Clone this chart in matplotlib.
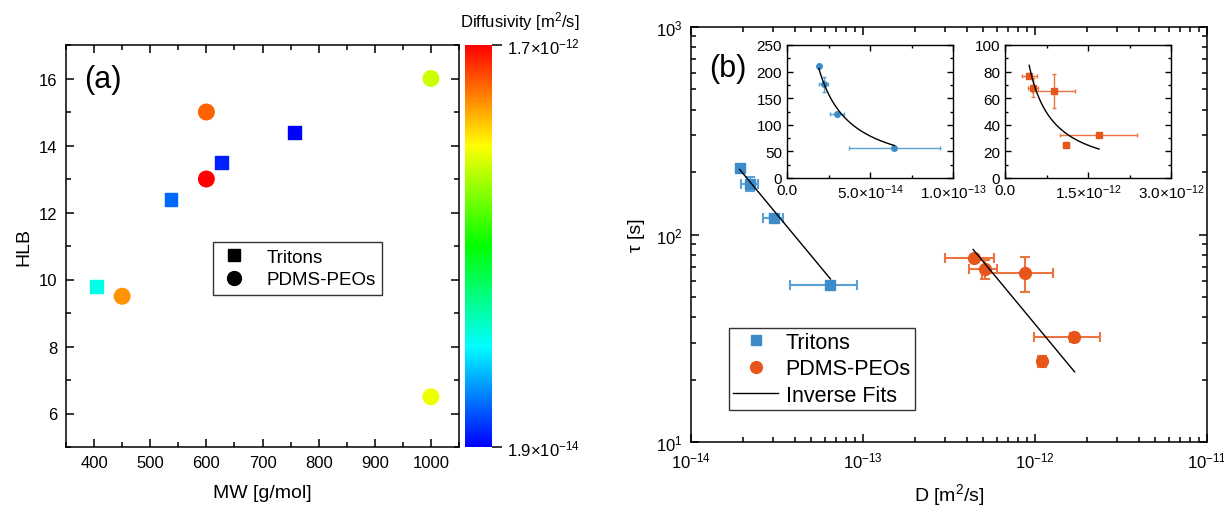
import numpy as np
import matplotlib
matplotlib.use("Agg")
import matplotlib.pyplot as plt
from matplotlib.colors import LinearSegmentedColormap, LogNorm
from matplotlib.ticker import MultipleLocator, NullFormatter
from matplotlib.lines import Line2D

plt.rcParams['font.family'] = ['Liberation Sans', 'DejaVu Sans']
plt.rcParams['mathtext.fontset'] = 'custom'
plt.rcParams['mathtext.rm'] = 'Liberation Sans'
plt.rcParams['mathtext.it'] = 'Liberation Sans:italic'
plt.rcParams['mathtext.bf'] = 'Liberation Sans:bold'
plt.rcParams['axes.linewidth'] = 1.1

# --- panel (a) data ---
triton_mw = [405, 537, 627, 757]
triton_hlb = [9.8, 12.4, 13.5, 14.4]
triton_diff = [6.5e-14, 3.0e-14, 2.2e-14, 1.9e-14]
pdms_mw = [450, 600, 600, 1000, 1000]
pdms_hlb = [9.5, 15.0, 13.0, 16.0, 6.5]
pdms_diff = [8.8e-13, 1.1e-12, 1.7e-12, 4.4e-13, 5.1e-13]
cbar_ticks = [1.9e-14, 1.7e-12]
cbar_labels = [r'1.9$\times$10$^{-14}$', r'1.7$\times$10$^{-12}$']

# --- panel (b) data ---
tri_D = [1.92e-14, 2.2e-14, 3.03e-14, 6.47e-14]
tri_D_err = [0.05e-14, 0.25e-14, 0.41e-14, 2.72e-14]
tri_tau = [210, 176, 120, 57]
tri_tau_err = [3, 14, 3, 2]
pdms_D = [4.4e-13, 5.1e-13, 8.8e-13, 1.69e-12, 1.10e-12]
pdms_D_err = [1.4e-13, 0.95e-13, 3.9e-13, 7.0e-13, 0.6e-13]
pdms_tau = [77, 68, 65.5, 32, 24.5]
pdms_tau_err = [2, 7, 12.5, 1.5, 1.5]

# inverse fits tau = a / D
tri_fit_a = 3.95e-12
tri_fit_range = [1.92e-14, 6.47e-14]
pdms_fit_a = 3.7e-11
pdms_fit_range = [4.37e-13, 1.70e-12]

c_tri = '#3b8cc9'
c_tri_err = '#5aa2d6'
c_pdms = '#e65519'
c_pdms_err = '#ec7440'

W, H = 1224, 506
fig = plt.figure(figsize=(W / 100, H / 100), dpi=100)

def box(x0, y0, x1, y1):
    return [x0 / W, 1 - y1 / H, (x1 - x0) / W, (y1 - y0) / H]

# ---------------- panel (a) ----------------
ax1 = fig.add_axes(box(66, 46, 459, 448))
cmap = LinearSegmentedColormap.from_list(
    'rb', [(0, '#0000ff'), (0.25, '#00ffff'), (0.5, '#00ff00'), (0.75, '#ffff00'), (1, '#ff0000')])
norm = LogNorm(vmin=1.9e-14, vmax=1.7e-12)
sc = ax1.scatter(triton_mw, triton_hlb, c=triton_diff, cmap=cmap, norm=norm, marker='s', s=85, zorder=3)
ax1.scatter(pdms_mw, pdms_hlb, c=pdms_diff, cmap=cmap, norm=norm, marker='o', s=125, zorder=3)
ax1.set_xlim(350, 1050)
ax1.set_ylim(5, 17)
ax1.xaxis.set_major_locator(MultipleLocator(100))
ax1.xaxis.set_minor_locator(MultipleLocator(50))
ax1.yaxis.set_major_locator(MultipleLocator(2))
ax1.yaxis.set_minor_locator(MultipleLocator(1))
ax1.tick_params(which='both', direction='in', top=True, right=True, labelsize=12, width=1.1, pad=6)
ax1.tick_params(which='major', length=6)
ax1.tick_params(which='minor', length=3.5)
ax1.set_xlabel('MW [g/mol]', fontsize=14, labelpad=10)
ax1.set_ylabel('HLB', fontsize=14, labelpad=5)
ax1.text(0.045, 0.915, '(a)', transform=ax1.transAxes, fontsize=22, va='center')
h_a = [Line2D([], [], ls='none', marker='s', color='black', ms=9),
       Line2D([], [], ls='none', marker='o', color='black', ms=10)]
leg_a = ax1.legend(h_a, ['Tritons', 'PDMS-PEOs'], loc='upper left', bbox_to_anchor=(0.374, 0.51),
                   fontsize=13.5, frameon=True, fancybox=False, edgecolor='black', borderaxespad=0,
                   handlelength=1.5, borderpad=0.35, labelspacing=0.3, handletextpad=1.0)
leg_a.get_frame().set_linewidth(1.0)

cax = fig.add_axes(box(465, 46, 492, 448))
cb = fig.colorbar(sc, cax=cax)
cb.set_ticks(cbar_ticks)
cb.set_ticklabels(cbar_labels)
cb.ax.minorticks_off()
cb.ax.tick_params(direction='out', length=7, width=1.1, labelsize=12)
cb.outline.set_visible(False)
fig.text(520 / W, 1 - 22 / H, 'Diffusivity [m$^2$/s]', ha='center', va='center', fontsize=12)

# ---------------- panel (b) ----------------
ax2 = fig.add_axes(box(691, 28, 1207, 443))
ax2.set_xscale('log')
ax2.set_yscale('log')
ax2.errorbar(tri_D, tri_tau, xerr=tri_D_err, yerr=tri_tau_err, fmt='none', ecolor=c_tri_err,
             elinewidth=1.5, capsize=3.5, capthick=1.5, zorder=2)
ax2.errorbar(pdms_D, pdms_tau, xerr=pdms_D_err, yerr=pdms_tau_err, fmt='none', ecolor=c_pdms_err,
             elinewidth=1.5, capsize=3.5, capthick=1.5, zorder=2)
ax2.plot(tri_D, tri_tau, ls='none', marker='s', ms=7.5, color=c_tri, label='Tritons', zorder=3)
ax2.plot(pdms_D, pdms_tau, ls='none', marker='o', ms=8.5, color=c_pdms, label='PDMS-PEOs', zorder=3)
fx1 = np.geomspace(tri_fit_range[0], tri_fit_range[1], 100)
fx2 = np.geomspace(pdms_fit_range[0], pdms_fit_range[1], 100)
ax2.plot(fx1, tri_fit_a / fx1, color='black', lw=1.0, label='Inverse Fits', zorder=4)
ax2.plot(fx2, pdms_fit_a / fx2, color='black', lw=1.0, zorder=4)
ax2.set_xlim(1e-14, 1e-11)
ax2.set_ylim(10, 1000)
ax2.tick_params(which='both', direction='in', top=True, right=True, labelsize=12, width=1.1, pad=6)
ax2.tick_params(which='major', length=6)
ax2.tick_params(which='minor', length=3.5)
ax2.yaxis.set_minor_formatter(NullFormatter())
ax2.xaxis.set_minor_formatter(NullFormatter())
ax2.set_xlabel('D [m$^2$/s]', fontsize=14, labelpad=8)
ax2.set_ylabel('τ [s]', fontsize=14, labelpad=8)
ax2.text(0.035, 0.9, '(b)', transform=ax2.transAxes, fontsize=22, va='center')
leg_b = ax2.legend(loc='lower left', bbox_to_anchor=(0.073, 0.077), fontsize=15.5, frameon=True,
                   fancybox=False, edgecolor='black', handlelength=2.1, borderpad=0.2,
                   labelspacing=0.25, handletextpad=0.35, borderaxespad=0)
leg_b.get_frame().set_linewidth(1.0)

# ---------------- insets ----------------
def style_inset(ax):
    ax.tick_params(which='both', direction='in', top=True, right=True, labelsize=11, width=1.0)
    ax.tick_params(which='major', length=4)
    ax.tick_params(which='minor', length=2.5)
    for s in ax.spines.values():
        s.set_linewidth(1.0)

in1 = fig.add_axes(box(787, 46, 953, 179))
in1.errorbar(tri_D, tri_tau, xerr=tri_D_err, yerr=tri_tau_err, fmt='none', ecolor=c_tri_err,
             elinewidth=1.0, capsize=1.5, capthick=1.0)
in1.plot(tri_D, tri_tau, ls='none', marker='o', ms=4, color=c_tri)
fl1 = np.linspace(tri_fit_range[0], tri_fit_range[1], 100)
in1.plot(fl1, tri_fit_a / fl1, color='black', lw=1.0)
in1.set_xlim(0, 1e-13)
in1.set_ylim(0, 250)
in1.set_xticks([0, 5e-14, 1e-13])
in1.set_xticklabels(['0.0', r'5.0$\times$10$^{-14}$', r'1.0$\times$10$^{-13}$'])
in1.xaxis.set_minor_locator(MultipleLocator(2.5e-14))
in1.yaxis.set_major_locator(MultipleLocator(50))
in1.yaxis.set_minor_locator(MultipleLocator(25))
style_inset(in1)

in2 = fig.add_axes(box(1005, 46, 1171, 179))
in2.errorbar(pdms_D, pdms_tau, xerr=pdms_D_err, yerr=pdms_tau_err, fmt='none', ecolor=c_pdms_err,
             elinewidth=1.0, capsize=1.5, capthick=1.0)
in2.plot(pdms_D, pdms_tau, ls='none', marker='s', ms=4, color=c_pdms)
fl2 = np.linspace(pdms_fit_range[0], pdms_fit_range[1], 100)
in2.plot(fl2, pdms_fit_a / fl2, color='black', lw=1.0)
in2.set_xlim(0, 3e-12)
in2.set_ylim(0, 100)
in2.set_xticks([0, 1.5e-12, 3e-12])
in2.set_xticklabels(['0.0', r'1.5$\times$10$^{-12}$', r'3.0$\times$10$^{-12}$'])
in2.xaxis.set_minor_locator(MultipleLocator(0.75e-12))
in2.yaxis.set_major_locator(MultipleLocator(20))
in2.yaxis.set_minor_locator(MultipleLocator(10))
style_inset(in2)

fig.savefig('out.png', dpi=100)
